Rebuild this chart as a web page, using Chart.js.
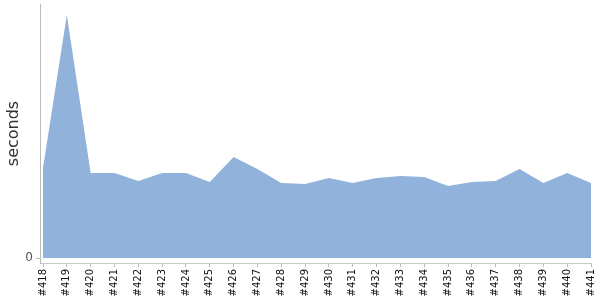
<!DOCTYPE html>
<html>
<head>
<meta charset="utf-8">
<script src="https://cdn.jsdelivr.net/npm/chart.js@4"></script>
<style>
  html, body { margin: 0; padding: 0; background: #fff; }
  #wrap { width: 600px; height: 300px; }
</style>
</head>
<body>
<div id="wrap"><canvas id="buildChart"></canvas></div>
<script>
// build numbers along the x axis
var builds = ["#418", "#419", "#420", "#421", "#422", "#423", "#424", "#425", "#426", "#427",
  "#428", "#429", "#430", "#431", "#432", "#433", "#434", "#435", "#436", "#437",
  "#438", "#439", "#440", "#441"];
// build duration (seconds)
var seconds = [18, 48.6, 17, 17, 15.4, 17, 17, 15.2, 20.2, 17.8,
  15, 14.8, 16, 15, 16, 16.4, 16.2, 14.4, 15.2, 15.4,
  17.8, 15, 17, 15];
var yTicks = [0];

var points = builds.map(function (b, i) {
  return { x: i, y: seconds[i] };
});

var ctx = document.getElementById("buildChart").getContext("2d");
new Chart(ctx, {
  type: "line",
  data: {
    datasets: [
      {
        label: "seconds",
        data: points,
        backgroundColor: "rgb(145, 178, 218)",
        borderWidth: 0,
        pointRadius: 0,
        fill: "origin",
        tension: 0,
      },
    ],
  },
  options: {
    responsive: true,
    maintainAspectRatio: false,
    animation: false,
    layout: { padding: { top: 4, right: 9, left: 0, bottom: 0 } },
    plugins: { legend: { display: false }, tooltip: { enabled: false } },
    scales: {
      x: {
        type: "linear",
        min: -0.126,
        max: builds.length - 1,
        afterBuildTicks: function (scale) {
          scale.ticks = builds.map(function (b, i) { return { value: i }; });
        },
        afterFit: function (scale) {
          scale.height = 37;
          scale.paddingLeft = 0;
          scale.paddingRight = 0;
        },
        ticks: {
          autoSkip: false,
          minRotation: 90,
          maxRotation: 90,
          padding: 2,
          color: "#111",
          font: { family: "DejaVu Sans", size: 10 },
          callback: function (v) { return builds[v]; },
        },
        grid: { drawOnChartArea: false, drawTicks: true, tickLength: 4, color: "#bbb" },
        border: { display: true, color: "#c8c8c8" },
      },
      y: {
        min: -1,
        max: 50.8,
        afterBuildTicks: function (scale) {
          scale.ticks = yTicks.map(function (v) { return { value: v }; });
        },
        afterFit: function (scale) {
          scale.width = 40;
          scale.paddingTop = 0;
          scale.paddingBottom = 0;
        },
        title: {
          display: true,
          text: "seconds",
          color: "#333",
          font: { family: "DejaVu Sans", size: 16 },
          padding: { top: 4, bottom: 6 },
        },
        ticks: {
          color: "#555",
          padding: 3,
          font: { family: "DejaVu Sans", size: 12 },
        },
        grid: { drawOnChartArea: false, drawTicks: true, tickLength: 4, color: "#bbb" },
        border: { display: true, color: "#bbb" },
      },
    },
  },
});
</script>
</body>
</html>
